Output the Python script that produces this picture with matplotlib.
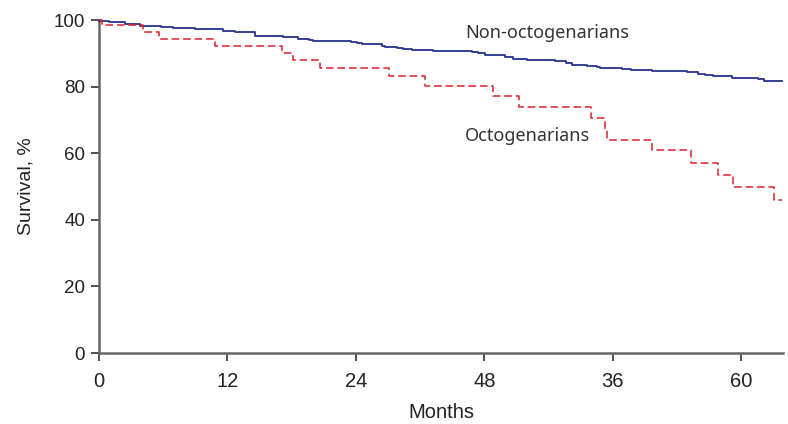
#%%### Imports
import matplotlib as mpl
mpl.use('Agg')
import matplotlib.pyplot as plt
from matplotlib import font_manager

#%%### Data
## Non-octogenarians, KM steps (months, survival %)
months_non = [
    0, 0.9, 2.4, 3.8, 5.8, 6.9, 9.0, 11.6, 12.7, 14.6,
    17.2, 18.6, 19.6, 20.0, 23.5, 24.1, 24.6, 26.4, 26.7, 27.8,
    28.4, 29.2, 31.2, 34.8, 35.4, 36.1, 37.0, 37.9, 38.7, 40.0,
    42.6, 43.6, 44.2, 45.6, 46.5, 46.8, 48.9, 49.7, 50.6, 51.7,
    54.9, 56.0, 56.6, 57.4, 59.1, 61.6, 62.1, 63.8,
]
surv_non = [
    99.7, 99.3, 98.8, 98.3, 98.0, 97.7, 97.2, 96.8, 96.4, 95.3,
    94.8, 94.4, 94.1, 93.8, 93.4, 93.0, 92.8, 92.2, 91.9, 91.6,
    91.3, 91.1, 90.8, 90.4, 90.0, 89.6, 89.4, 88.8, 88.3, 88.1,
    87.7, 87.2, 86.6, 86.2, 85.9, 85.6, 85.3, 85.1, 84.9, 84.6,
    84.3, 83.9, 83.5, 83.1, 82.6, 82.3, 81.8, 81.8,
]
## Octogenarians
months_oct = [
    0, 0.3, 4.1, 5.6, 10.8, 17.1, 18.1, 20.6, 27.1, 30.5,
    36.8, 39.2, 46.0, 47.3, 47.5, 51.7, 55.3, 57.8, 59.2, 63.1, 63.8,
]
surv_oct = [
    100, 98.4, 96.5, 94.4, 92.2, 90.1, 87.9, 85.7, 83.2, 80.2,
    77.2, 74.0, 70.7, 67.2, 64.1, 61.0, 57.2, 53.4, 49.8, 46.0, 46.0,
]
## Tick labels as printed on the original (48 and 36 are swapped there)
xticks = [0, 12, 24, 36, 48, 60]
xticklabels = ['0', '12', '24', '48', '36', '60']
yticks = [0, 20, 40, 60, 80, 100]

#%%### Fonts
installed = {f.name for f in font_manager.fontManager.ttflist}
narrow = 'Liberation Sans Narrow' if 'Liberation Sans Narrow' in installed else 'Liberation Sans'
regular = 'Liberation Sans'
labelfont = 'Noto Sans'

#%%### Plot
plt.close()
f = plt.figure(figsize=(7.88, 4.24), dpi=100)
ax = f.add_axes([99/788, 71/424, 684/788, 333/424])

ax.plot(months_non, surv_non, drawstyle='steps-post', color='#26328c', lw=1.3,
        clip_on=False, zorder=3)
ax.plot(months_oct, surv_oct, drawstyle='steps-post', color='#dc2229', lw=1.1,
        ls=(0, (5, 2.5)), clip_on=False, zorder=4)

ax.set_xlim(0, 63.9)
ax.set_ylim(0, 100)
ax.set_xticks(xticks)
ax.set_xticklabels(xticklabels, family=[narrow, 'DejaVu Sans'], fontsize=14.5)
ax.set_yticks(yticks)
ax.set_yticklabels([str(y) for y in yticks], family=[regular, 'DejaVu Sans'], fontsize=13.5)
ax.tick_params(direction='out', length=6, width=1.2, color='#333333',
               labelcolor='#222222')
ax.tick_params(axis='x', pad=8)
ax.tick_params(axis='y', pad=4)
for side in ['top', 'right']:
    ax.spines[side].set_visible(False)
for side in ['left', 'bottom']:
    ax.spines[side].set_color('#666666')
    ax.spines[side].set_linewidth(1.8)

ax.set_xlabel('Months', family=[narrow, 'DejaVu Sans'], fontsize=14.5,
              color='#222222', labelpad=8)
ax.set_ylabel('Survival, %', family=[regular, 'DejaVu Sans'], fontsize=14,
              color='#222222', labelpad=14)

ax.text(34.2, 96.2, 'Non-octogenarians', family=[labelfont, 'DejaVu Sans'],
        fontsize=13, color='#333333', va='center', ha='left')
ax.text(34.2, 65.2, 'Octogenarians', family=[labelfont, 'DejaVu Sans'],
        fontsize=13, color='#333333', va='center', ha='left')

f.savefig('out.png', dpi=100)
